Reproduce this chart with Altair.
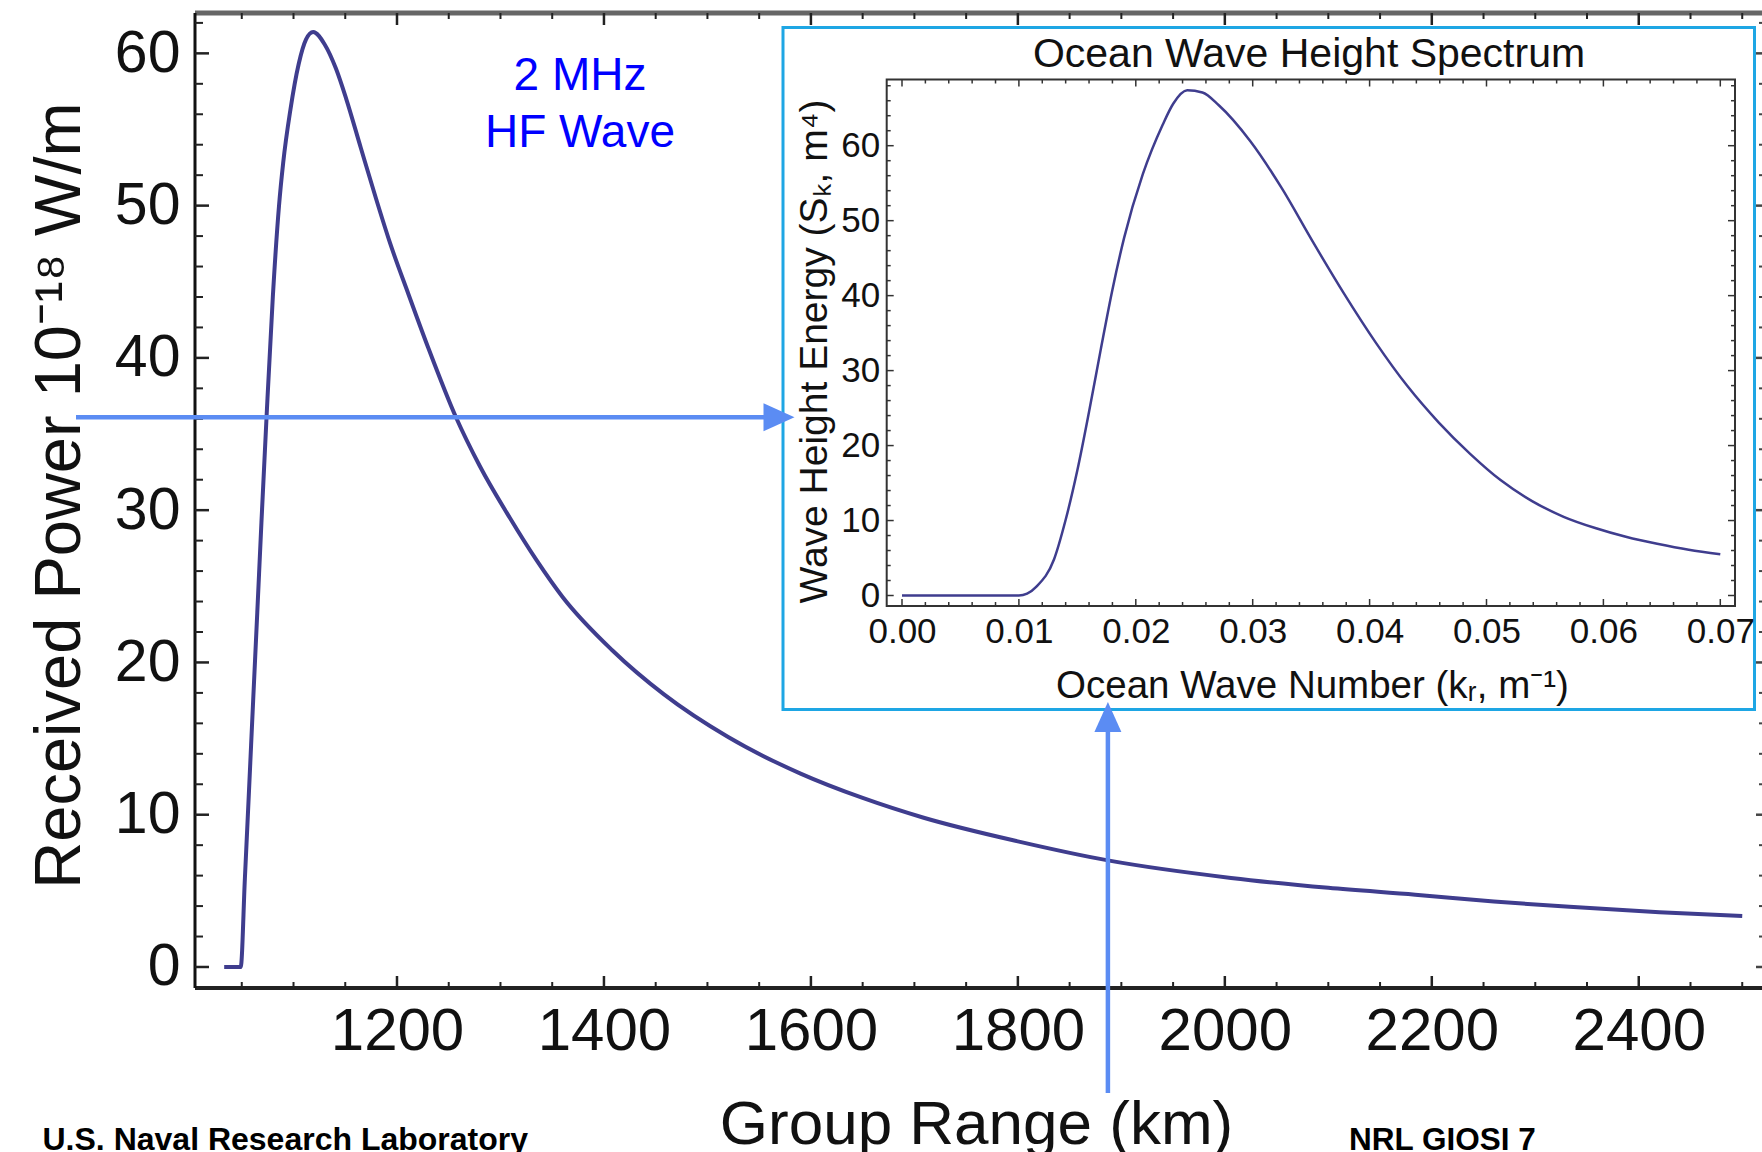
import altair as alt
import pandas as pd

# ---------------- data ----------------
# main curve: received power vs group range
range_km = [1033, 1049, 1053, 1057, 1061, 1065, 1069, 1074, 1080, 1086,
            1090, 1097, 1105, 1112, 1119, 1130, 1141, 1151, 1165, 1180,
            1193, 1211, 1230, 1257, 1280, 1309, 1335, 1360, 1408, 1458,
            1520, 1590, 1650, 1709, 1800, 1887, 2006, 2100, 2184, 2260,
            2333, 2420, 2500]
power = [0, 0, 5.8, 11.6, 17.5, 23.3, 29.2, 36.2, 44.0, 50.0,
         52.8, 56.3, 59.3, 60.9, 61.4, 60.6, 59.0, 57.0, 53.8, 50.4,
         47.6, 44.2, 40.7, 36.1, 32.9, 29.5, 26.7, 24.3, 20.8, 17.9,
         15.1, 12.7, 11.1, 9.8, 8.25, 7.0, 5.85, 5.2, 4.75, 4.3,
         3.95, 3.6, 3.35]

# inset curve: ocean wave height spectrum
wave_k = [0.000, 0.0100, 0.0107, 0.0115, 0.0130, 0.0140, 0.0150, 0.0160, 0.0170, 0.0180,
          0.0190, 0.0206, 0.0223, 0.0232, 0.0244, 0.0257, 0.0271, 0.0298, 0.0325, 0.0351,
          0.0378, 0.0405, 0.0432, 0.0459, 0.0486, 0.0512, 0.0539, 0.0566, 0.0593, 0.0620,
          0.0646, 0.0673, 0.0700]
energy = [0, 0, 0.25, 1.2, 4.8, 10.1, 16.7, 24.5, 32.8, 40.8,
          47.7, 56.2, 62.8, 65.6, 67.4, 67.1, 65.4, 60.6, 54.3, 47.3,
          40.3, 33.8, 28.0, 23.1, 18.9, 15.4, 12.6, 10.5, 9.0, 7.8,
          6.9, 6.1, 5.5]

# ticks
main_x_major = [1200, 1400, 1600, 1800, 2000, 2200, 2400]
main_x_minor = [v for v in range(1050, 2501, 50) if v not in main_x_major]
main_y_major = [0, 10, 20, 30, 40, 50, 60]
main_y_minor = [v for v in range(2, 63, 2) if v not in main_y_major]
inset_x_major = [0.00, 0.01, 0.02, 0.03, 0.04, 0.05, 0.06, 0.07]
inset_x_minor = [round(i * 0.002, 4) for i in range(1, 36) if i % 5 != 0]
inset_y_major = [0, 10, 20, 30, 40, 50, 60]
inset_y_minor = [v for v in range(2, 69, 2) if v not in inset_y_major]

# arrows (mapping between the panels)
arrow_power = [36.1]
arrow_range = [1887]

# texts
freq_label = ["2 MHz", "HF Wave"]
footer_left = "U.S. Naval Research Laboratory"
footer_right = "NRL GIOSI 7"

# ---------------- layout ----------------
W, H = 1567, 975
FONT = "Liberation Sans"
CURVE = "#3f3d8e"
ARROW = "#5b8cf3"
CYAN = "#1ea6e4"

MX = alt.Scale(domain=[1004.8, 2519.1], range=[0, W], nice=False, zero=False)
MY = alt.Scale(domain=[-1.38, 62.65], range=[H, 0], nice=False, zero=False)
IX = alt.Scale(domain=[-0.001309, 0.071258], range=[691.7, 1540], nice=False, zero=False)
IY = alt.Scale(domain=[-1.40, 68.83], range=[593, 66.5], nice=False, zero=False)

one = pd.DataFrame({"a": [0]})
main_df = pd.DataFrame({"range": range_km, "power": power})
inset_df = pd.DataFrame({"k": wave_k, "s": energy})


def vals(lst, name="v"):
    return pd.DataFrame({name: lst})


layers = []

# inset box (white with cyan border)
layers.append(alt.Chart(one).mark_rect(fill="white", stroke=CYAN, strokeWidth=3).encode(
    x=alt.value(588), x2=alt.value(1559.5), y=alt.value(14.5), y2=alt.value(696.5)))

# main frame lines
layers.append(alt.Chart(one).mark_rule(color="#666666", strokeWidth=5).encode(
    x=alt.value(0), x2=alt.value(W), y=alt.value(0)))
layers.append(alt.Chart(one).mark_rule(color="#222222", strokeWidth=4).encode(
    x=alt.value(0), x2=alt.value(W), y=alt.value(H)))
layers.append(alt.Chart(one).mark_rule(color="#111111", strokeWidth=3).encode(
    x=alt.value(0), y=alt.value(0), y2=alt.value(H)))

# main ticks
for lst, ln, sw in [(main_x_major, 12, 2.5), (main_x_minor, 6, 2)]:
    layers.append(alt.Chart(vals(lst)).mark_rule(color="#222222", strokeWidth=sw).encode(
        x=alt.X("v:Q", scale=MX, axis=None), y=alt.value(H), y2=alt.value(H - ln)))
    layers.append(alt.Chart(vals(lst)).mark_rule(color="#222222", strokeWidth=sw).encode(
        x=alt.X("v:Q", scale=MX, axis=None), y=alt.value(0), y2=alt.value(ln)))
for lst, ln, rl, sw in [(main_y_major, 14, 6, 2.5), (main_y_minor, 8, 3, 2)]:
    layers.append(alt.Chart(vals(lst)).mark_rule(color="#222222", strokeWidth=sw).encode(
        y=alt.Y("v:Q", scale=MY, axis=None), x=alt.value(0), x2=alt.value(ln)))
    layers.append(alt.Chart(vals(lst)).mark_rule(color="#444444", strokeWidth=sw).encode(
        y=alt.Y("v:Q", scale=MY, axis=None), x=alt.value(W), x2=alt.value(W - rl)))

# main curve with axes
layers.append(alt.Chart(main_df).mark_line(color=CURVE, strokeWidth=4, interpolate="monotone").encode(
    x=alt.X("range:Q", scale=MX, axis=alt.Axis(
        orient="bottom", values=main_x_major, format="d", ticks=False, domain=False, grid=False,
        labelFont=FONT, labelFontSize=60, labelColor="#111111", labelPadding=14,
        labelFlush=False, labelOverlap=False, zindex=1,
        title="Group Range (km)", titleFont=FONT, titleFontSize=62, titleFontWeight="normal",
        titleColor="#111111", titleX=781, titleY=155, titleAlign="center", titleBaseline="alphabetic")),
    y=alt.Y("power:Q", scale=MY, axis=alt.Axis(
        orient="left", values=main_y_major, format="d", ticks=False, domain=False, grid=False,
        labelFont=FONT, labelFontSize=59, labelColor="#111111", labelPadding=15,
        labelFlush=False, labelOverlap=False, zindex=1,
        title="Received Power 10\u207b\u00b9\u2078 W/m", titleFont=FONT, titleFontSize=65,
        titleFontWeight="normal", titleColor="#111111", titleAngle=270,
        titleX=-116, titleY=482, titleAlign="center", titleBaseline="alphabetic")),
))

# inset frame
layers.append(alt.Chart(one).mark_rect(fill="white", stroke="#333333", strokeWidth=2).encode(
    x=alt.value(691.7), x2=alt.value(1540), y=alt.value(66.5), y2=alt.value(593)))

# inset ticks
for lst, ln in [(inset_x_major, 7), (inset_x_minor, 4)]:
    layers.append(alt.Chart(vals(lst)).mark_rule(color="#333333", strokeWidth=1.5).encode(
        x=alt.X("v:Q", scale=IX, axis=None), y=alt.value(593), y2=alt.value(593 - ln)))
    layers.append(alt.Chart(vals(lst)).mark_rule(color="#333333", strokeWidth=1.5).encode(
        x=alt.X("v:Q", scale=IX, axis=None), y=alt.value(66.5), y2=alt.value(66.5 + ln)))
for lst, ln in [(inset_y_major, 7), (inset_y_minor, 4)]:
    layers.append(alt.Chart(vals(lst)).mark_rule(color="#333333", strokeWidth=1.5).encode(
        y=alt.Y("v:Q", scale=IY, axis=None), x=alt.value(691.7), x2=alt.value(691.7 + ln)))
    layers.append(alt.Chart(vals(lst)).mark_rule(color="#333333", strokeWidth=1.5).encode(
        y=alt.Y("v:Q", scale=IY, axis=None), x=alt.value(1540), x2=alt.value(1540 - ln)))

# inset curve with its axes (drawn above the white boxes)
layers.append(alt.Chart(inset_df).mark_line(color=CURVE, strokeWidth=2.5, interpolate="monotone").encode(
    x=alt.X("k:Q", scale=IX, axis=alt.Axis(
        orient="bottom", offset=-382, values=inset_x_major, format=".2f", ticks=False, domain=False,
        grid=False, labelFont=FONT, labelFontSize=35, labelColor="#111111", labelPadding=8,
        labelFlush=False, labelOverlap=False, zindex=1,
        title="Ocean Wave Number (k\u1d63, m\u207b\u00b9)", titleFont=FONT, titleFontSize=38.5,
        titleFontWeight="normal", titleColor="#111111", titleX=1117, titleY=91,
        titleAlign="center", titleBaseline="alphabetic")),
    y=alt.Y("s:Q", scale=IY, axis=alt.Axis(
        orient="left", offset=-691.7, values=inset_y_major, format="d", ticks=False, domain=False,
        grid=False, labelFont=FONT, labelFontSize=35, labelColor="#111111", labelPadding=7,
        labelFlush=False, labelOverlap=False, zindex=1,
        title="Wave Height Energy (S\u2096, m\u2074)", titleFont=FONT, titleFontSize=39,
        titleFontWeight="normal", titleColor="#111111", titleAngle=270,
        titleX=-60, titleY=338, titleAlign="center", titleBaseline="alphabetic")),
))

# inset title
layers.append(alt.Chart(one).mark_text(
    text="Ocean Wave Height Spectrum", font=FONT, fontSize=41, color="#111111",
    align="center", baseline="alphabetic").encode(x=alt.value(1114), y=alt.value(53.6)))

# arrows
layers.append(alt.Chart(vals(arrow_power)).mark_rule(color=ARROW, strokeWidth=4.5).encode(
    y=alt.Y("v:Q", scale=MY, axis=None), x=alt.value(-119), x2=alt.value(575)))
layers.append(alt.Chart(vals(arrow_power)).mark_point(
    shape="M-1,-0.9L1,0L-1,0.9Z", filled=True, size=961, color=ARROW, opacity=1, strokeWidth=0).encode(
    y=alt.Y("v:Q", scale=MY, axis=None), x=alt.value(584)))
layers.append(alt.Chart(vals(arrow_range)).mark_rule(color=ARROW, strokeWidth=4.5).encode(
    x=alt.X("v:Q", scale=MX, axis=None), y=alt.value(1080), y2=alt.value(712)))
layers.append(alt.Chart(vals(arrow_range)).mark_point(
    shape="M-0.9,1L0,-1L0.9,1Z", filled=True, size=900, color=ARROW, opacity=1, strokeWidth=0).encode(
    x=alt.X("v:Q", scale=MX, axis=None), y=alt.value(704)))

# frequency annotation
layers.append(alt.Chart(one).mark_text(
    text=freq_label, font=FONT, fontSize=46, color="#0000ff", align="center",
    baseline="alphabetic", lineHeight=57.3).encode(x=alt.value(385), y=alt.value(77)))

# footer
layers.append(alt.Chart(one).mark_text(
    text=footer_left, font=FONT, fontSize=32, fontWeight="bold", color="#000000",
    align="left", baseline="alphabetic").encode(x=alt.value(-152.5), y=alt.value(1137)))
layers.append(alt.Chart(one).mark_text(
    text=footer_right, font=FONT, fontSize=31.5, fontWeight="bold", color="#000000",
    align="left", baseline="alphabetic").encode(x=alt.value(1154), y=alt.value(1137)))

chart = alt.layer(*layers).resolve_scale(x="independent", y="independent").properties(
    width=W, height=H,
    autosize=alt.AutoSizeParams(type="none"),
    padding={"left": 195, "top": 13, "right": 0, "bottom": 164},
    background="white",
).configure_view(stroke=None)

chart.save("out.html", embed_options={"renderer": "svg", "actions": False})
